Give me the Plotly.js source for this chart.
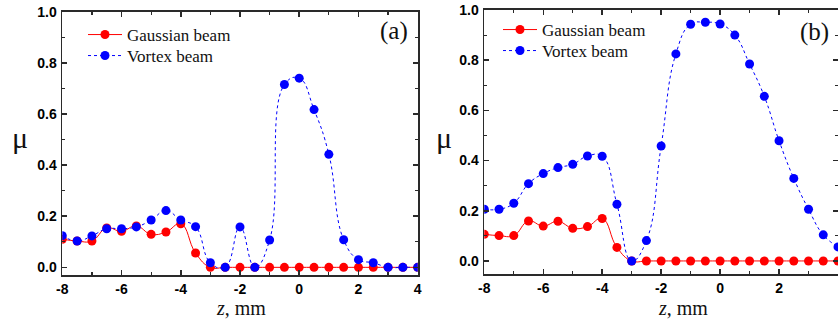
<!DOCTYPE html>
<html><head><meta charset="utf-8">
<script src="https://cdn.plot.ly/plotly-3.0.1.min.js"></script>
<style>body{margin:0;background:#fff}#chart{width:838px;height:324px}</style>
</head><body><div id="chart"></div>
<script>
// z positions, mm
const z = [-8,-7.5,-7,-6.5,-6,-5.5,-5,-4.5,-4,-3.5,-3,-2.5,-2,-1.5,-1,-0.5,0,0.5,1,1.5,2,2.5,3,3.5,4];
// panel (a)
const gaussA  = [0.110,0.103,0.103,0.154,0.141,0.162,0.129,0.138,0.170,0.056,0,0,0,0,0,0,0,0,0,0,0,0,0,0,0];
const vortexA = [0.124,0.103,0.123,0.151,0.151,0.158,0.185,0.222,0.185,0.159,0.018,0,0.158,0,0.107,0.715,0.740,0.617,0.442,0.108,0.030,0.018,0,0,0];
// panel (b)
const gaussB  = [0.106,0.101,0.101,0.159,0.139,0.158,0.130,0.137,0.169,0.054,0,0,0,0,0,0,0,0,0,0,0,0,0,0,0];
const vortexB = [0.206,0.206,0.230,0.308,0.348,0.372,0.385,0.418,0.417,0.226,0,0.081,0.458,0.825,0.943,0.951,0.944,0.900,0.785,0.656,0.479,0.329,0.206,0.104,0.056];
const seriesNames = ['Gaussian beam','Vortex beam'];
const xTickVals = [-8,-6,-4,-2,0,2,4];
const xTickText = ['-8','-6','-4','-2','0','2','4'];
const yTickVals = [0,0.2,0.4,0.6,0.8,1.0];
const yTickText = ['0.0','0.2','0.4','0.6','0.8','1.0'];
const panelLabels = ['(a)','(b)'];

const W = 838, H = 324;
const px = v => v / W, py = v => 1 - v / H;

function gTrace(y, xa, ya, leg){
  return {x:z, y:y, xaxis:xa, yaxis:ya, legend:leg, name:seriesNames[0], showlegend:true,
    mode:'lines+markers', line:{color:'#ff0000', width:1, shape:'spline', smoothing:1.3},
    marker:{color:'#ff0000', size:9, symbol:'circle'}};
}
function vTrace(y, xa, ya, leg){
  return {x:z, y:y, xaxis:xa, yaxis:ya, legend:leg, name:seriesNames[1], showlegend:true,
    mode:'lines+markers', line:{color:'#0000ff', width:1, dash:'dot', shape:'spline', smoothing:1.3},
    marker:{color:'#0000ff', size:9, symbol:'circle'}};
}
const data = [
  gTrace(gaussA,'x','y','legend'), vTrace(vortexA,'x','y','legend2'),
  gTrace(gaussB,'x2','y2','legend3'), vTrace(vortexB,'x2','y2','legend4')
];

const axCol = '#2a2a2a';
const tickFont = {family:'Liberation Sans, Arial, sans-serif', size:14, color:'#000', weight:'bold'};
function xax(d0, d1, anchor){
  return {domain:[px(d0), px(d1)], anchor:anchor, range:[-8,4], tickvals:xTickVals, ticktext:xTickText,
    ticks:'inside', ticklen:5, tickwidth:1.5, tickcolor:axCol, showline:true, linecolor:axCol, linewidth:1.8,
    mirror:'allticks', showgrid:false, zeroline:false, tickfont:tickFont,
    minor:{tickvals:[-7,-5,-3,-1,1,3], ticks:'inside', ticklen:3, tickwidth:1.2, tickcolor:axCol, showgrid:false}};
}
function yax(t, b, anchor, rmin){
  return {domain:[py(b), py(t)], anchor:anchor, range:[rmin,1.0], tickvals:yTickVals, ticktext:yTickText,
    ticks:'inside', ticklen:5, tickwidth:1.5, tickcolor:axCol, showline:true, linecolor:axCol, linewidth:1.8,
    mirror:'allticks', showgrid:false, zeroline:false, tickfont:tickFont, ticklabelstandoff:1,
    minor:{tickvals:[0.1,0.3,0.5,0.7,0.9], ticks:'inside', ticklen:3, tickwidth:1.2, tickcolor:axCol, showgrid:false}};
}
const serif = 'Liberation Serif, Times New Roman, serif';
const legFont = {family:serif, size:17, color:'#111'};
function leg(x, top){
  return {x:px(x), xanchor:'left', y:py(top), yanchor:'top', bgcolor:'rgba(0,0,0,0)', borderwidth:0,
    font:legFont, itemwidth:34};
}
function ann(text, x, y, size){
  return {text:text, x:px(x), y:py(y), xref:'paper', yref:'paper', xanchor:'center', yanchor:'middle',
    showarrow:false, font:{family:serif, size:size, color:'#111'}};
}
const layout = {
  width:W, height:H, margin:{l:0,r:0,t:0,b:0}, paper_bgcolor:'#fff', plot_bgcolor:'#fff',
  xaxis: xax(62.3, 417.7, 'y'),
  yaxis: yax(11.7, 275, 'x', -0.03),
  xaxis2: xax(484.3, 838, 'y2'),
  yaxis2: yax(10, 274, 'x2', -0.052),
  legend:  leg(83, 17),
  legend2: leg(83, 38),
  legend3: leg(498, 12),
  legend4: leg(498, 33),
  annotations:[
    ann(panelLabels[0], 394, 31, 25),
    ann(panelLabels[1], 814, 32, 25),
    ann('μ', 19.5, 137, 30),
    ann('μ', 444, 137, 30),
    ann('<i>z</i>, mm', 241, 308, 20),
    ann('<i>z</i>, mm', 683, 308, 20)
  ]
};
Plotly.newPlot('chart', data, layout, {displayModeBar:false, staticPlot:true});
</script></body></html>
